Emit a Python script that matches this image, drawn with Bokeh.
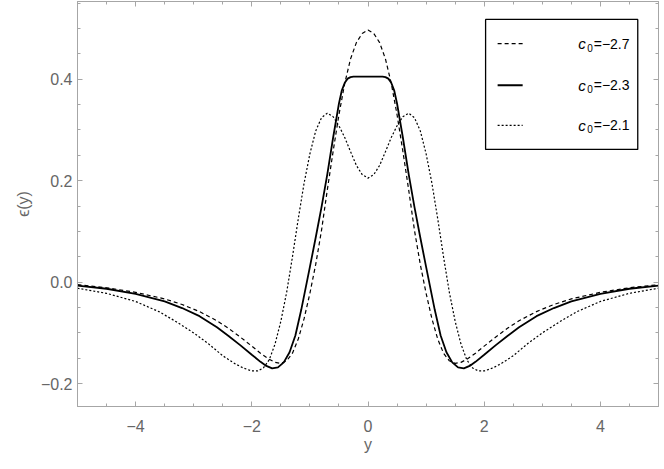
from bokeh.plotting import figure
from bokeh.models import ColumnDataSource, FixedTicker, LinearAxis, Range1d
from bokeh.core.properties import value
from bokeh.embed import file_html
from bokeh.resources import INLINE

# c0 = -2.7 (dashed)
y_a = [-5.0, -4.5, -4.0, -3.5, -3.2, -2.9, -2.6, -2.4, -2.2, -2.0, -1.85, -1.7, -1.6, -1.5, -1.4, -1.3, -1.2,
       -1.1, -1.0, -0.9, -0.8, -0.7, -0.6, -0.5, -0.4, -0.3, -0.2, -0.1, 0.0,
       0.1, 0.2, 0.3, 0.4, 0.5, 0.6, 0.7, 0.8, 0.9, 1.0, 1.1, 1.2, 1.3, 1.4, 1.5, 1.6, 1.7, 1.85, 2.0,
       2.2, 2.4, 2.6, 2.9, 3.2, 3.5, 4.0, 4.5, 5.0]
eps_a = [-0.005, -0.011, -0.020, -0.033, -0.044, -0.058, -0.076, -0.091, -0.108, -0.126, -0.140, -0.152, -0.158,
         -0.160, -0.155, -0.140, -0.112, -0.072, -0.022, 0.035, 0.102, 0.182, 0.258, 0.330, 0.392, 0.440, 0.472,
         0.490, 0.497,
         0.490, 0.472, 0.440, 0.392, 0.330, 0.258, 0.182, 0.102, 0.035, -0.022, -0.072, -0.112, -0.140, -0.155,
         -0.160, -0.158, -0.152, -0.140, -0.126, -0.108, -0.091, -0.076, -0.058, -0.044, -0.033, -0.020, -0.011,
         -0.005]

# c0 = -2.3 (solid)
y_b = [-5.0, -4.5, -4.0, -3.5, -3.2, -2.9, -2.6, -2.4, -2.2, -2.0, -1.85, -1.75, -1.65, -1.55, -1.45, -1.35,
       -1.25, -1.15, -1.0, -0.9, -0.8, -0.7, -0.6, -0.5, -0.45, -0.4, -0.35, -0.3, -0.25, 0.0,
       0.25, 0.3, 0.35, 0.4, 0.45, 0.5, 0.6, 0.7, 0.8, 0.9, 1.0, 1.15, 1.25, 1.35, 1.45, 1.55, 1.65, 1.75,
       1.85, 2.0, 2.2, 2.4, 2.6, 2.9, 3.2, 3.5, 4.0, 4.5, 5.0]
eps_b = [-0.007, -0.013, -0.023, -0.038, -0.051, -0.067, -0.089, -0.106, -0.124, -0.143, -0.157, -0.165, -0.170,
         -0.168, -0.158, -0.138, -0.105, -0.055, 0.030, 0.088, 0.148, 0.213, 0.285, 0.352, 0.378, 0.393, 0.401,
         0.404, 0.405, 0.405,
         0.405, 0.404, 0.401, 0.393, 0.378, 0.352, 0.285, 0.213, 0.148, 0.088, 0.030, -0.055, -0.105, -0.138,
         -0.158, -0.168, -0.170, -0.165, -0.157, -0.143, -0.124, -0.106, -0.089, -0.067, -0.051, -0.038, -0.023,
         -0.013, -0.007]

# c0 = -2.1 (dotted)
y_c = [-5.0, -4.5, -4.0, -3.6, -3.3, -3.0, -2.75, -2.5, -2.3, -2.15, -2.0, -1.9, -1.8, -1.7, -1.6, -1.5, -1.4,
       -1.3, -1.2, -1.1, -1.0, -0.9, -0.8, -0.7, -0.6, -0.5, -0.4, -0.3, -0.2, -0.1, 0.0,
       0.1, 0.2, 0.3, 0.4, 0.5, 0.6, 0.7, 0.8, 0.9, 1.0, 1.1, 1.2, 1.3, 1.4, 1.5, 1.6, 1.7, 1.8, 1.9, 2.0,
       2.15, 2.3, 2.5, 2.75, 3.0, 3.3, 3.6, 4.0, 4.5, 5.0]
eps_c = [-0.012, -0.022, -0.038, -0.058, -0.078, -0.100, -0.121, -0.145, -0.160, -0.169, -0.175, -0.175, -0.169,
         -0.153, -0.122, -0.077, -0.020, 0.050, 0.125, 0.195, 0.253, 0.298, 0.324, 0.333, 0.326, 0.308, 0.285,
         0.257, 0.230, 0.212, 0.205,
         0.212, 0.230, 0.257, 0.285, 0.308, 0.326, 0.333, 0.324, 0.298, 0.253, 0.195, 0.125, 0.050, -0.020,
         -0.077, -0.122, -0.153, -0.169, -0.175, -0.175, -0.169, -0.160, -0.145, -0.121, -0.100, -0.078, -0.058,
         -0.038, -0.022, -0.012]

legend_values = ["−2.7", "−2.3", "−2.1"]
line_dashes = ["4 3", "solid", "2 2"]
line_widths = [1.2, 1.8, 1.2]

x_ticks = [-4, -2, 0, 2, 4]
x_tick_labels = ["−4", "−2", "0", "2", "4"]
y_ticks = [-0.2, 0.0, 0.2, 0.4]
y_tick_labels = ["−0.2", "0.0", "0.2", "0.4"]

FONT = "Liberation Sans"
FRAME = "#a6a6a6"
LABEL = "#666666"

p = figure(width=664, height=469, x_range=Range1d(-5, 5), y_range=Range1d(-0.245, 0.553),
           output_backend="svg", toolbar_location=None,
           min_border_left=77, min_border_right=6, min_border_top=1, min_border_bottom=63)
p.xgrid.visible = False
p.ygrid.visible = False
p.outline_line_color = FRAME
p.background_fill_color = "white"

x_minor = [v / 2 for v in range(-10, 11)]
y_minor = [v / 20 for v in range(-5, 12)]

def style_axis(ax, ticks, minor, labels, show):
    ax.ticker = FixedTicker(ticks=ticks, minor_ticks=minor)
    ax.axis_line_color = FRAME
    ax.major_tick_line_color = FRAME
    ax.minor_tick_line_color = FRAME
    ax.major_tick_in = 5
    ax.major_tick_out = 0
    ax.minor_tick_in = 3
    ax.minor_tick_out = 0
    if show:
        ax.major_label_overrides = {t: l for t, l in zip(ticks, labels)}
        ax.major_label_text_font = FONT
        ax.major_label_text_font_size = "16px"
        ax.major_label_text_color = LABEL
        ax.axis_label_text_font = FONT
        ax.axis_label_text_font_size = "16px"
        ax.axis_label_text_font_style = "normal"
        ax.axis_label_text_color = LABEL
    else:
        ax.major_label_text_font_size = "1px"
        ax.major_label_text_color = None
        ax.major_label_standoff = 0

style_axis(p.xaxis[0], x_ticks, x_minor, x_tick_labels, True)
style_axis(p.yaxis[0], y_ticks, y_minor, y_tick_labels, True)
p.xaxis[0].axis_label = "y"
p.yaxis[0].axis_label = "ϵ(y)"
p.xaxis[0].major_label_standoff = 13
p.yaxis[0].major_label_standoff = 5
p.yaxis[0].axis_label_standoff = 6
p.xaxis[0].axis_label_standoff = 1

top = LinearAxis()
right = LinearAxis()
style_axis(top, x_ticks, x_minor, x_tick_labels, False)
style_axis(right, y_ticks, y_minor, y_tick_labels, False)
p.add_layout(top, "above")
p.add_layout(right, "right")

series = [(y_a, eps_a), (y_b, eps_b), (y_c, eps_c)]
for (xs, ys), dash, lw in zip(series, line_dashes, line_widths):
    src = ColumnDataSource(data=dict(x=xs, y=ys))
    p.line("x", "y", source=src, line_color="black", line_width=lw, line_dash=dash)

# legend box (manual)
p.quad(left=[2.024], right=[4.643], bottom=[0.2615], top=[0.5176],
       fill_color="white", line_color="black", line_width=1.3)
leg_y = [0.470, 0.388, 0.309]
for yy, dash, lw in zip(leg_y, line_dashes, line_widths):
    p.line([2.231, 2.662], [yy, yy], line_color="black", line_width=lw, line_dash=dash)
p.text(x=[3.618] * 3, y=leg_y, text=["c"] * 3, text_font=value(FONT), text_font_size="15px",
       text_font_style="italic", text_baseline="middle", text_align="left", text_color="black")
p.text(x=[3.773] * 3, y=leg_y, text=["0"] * 3, text_font=value(FONT), text_font_size="10px",
       text_baseline="middle", text_align="left", text_color="black", y_offset=4)
p.text(x=[3.885] * 3, y=leg_y, text=["=" + v for v in legend_values], text_font=value(FONT),
       text_font_size="14px", text_baseline="middle", text_align="left", text_color="black")

open("out.html", "w").write(file_html(p, INLINE))
